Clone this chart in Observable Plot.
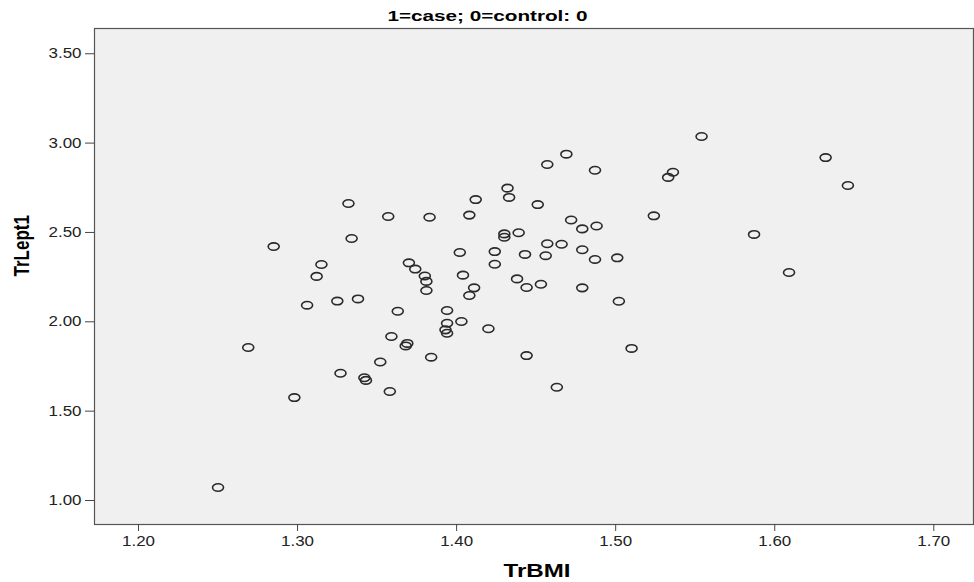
<!DOCTYPE html>
<html><head><meta charset="utf-8">
<script src="https://cdn.jsdelivr.net/npm/d3@7"></script>
<script src="https://cdn.jsdelivr.net/npm/@observablehq/plot@0.6"></script>
<style>body{margin:0;background:#fff}</style>
</head><body><div id="chart"></div>
<script>
const trBMI = [1.332,1.357,1.383,1.408,1.412,1.432,1.433,1.457,1.469,1.487,
  1.451,1.334,1.315,1.312,1.370,1.374,1.380,1.381,1.381,1.402,
  1.404,1.411,1.408,1.424,1.424,1.430,1.430,1.439,1.457,1.466,
  1.443,1.456,1.472,1.479,1.488,1.479,1.487,1.501,1.438,1.444,
  1.453,1.479,1.502,1.536,1.533,1.524,1.554,1.632,1.646,1.587,
  1.609,1.510,1.285,1.250,1.269,1.298,1.306,1.325,1.338,1.363,
  1.394,1.394,1.403,1.393,1.394,1.420,1.359,1.369,1.368,1.384,
  1.352,1.327,1.342,1.343,1.358,1.444,1.463];
const trLept1 = [2.662,2.589,2.585,2.597,2.684,2.748,2.696,2.880,2.938,2.848,
  2.656,2.466,2.321,2.254,2.330,2.295,2.256,2.226,2.175,2.388,
  2.261,2.190,2.147,2.393,2.322,2.492,2.473,2.498,2.437,2.434,
  2.377,2.370,2.570,2.520,2.536,2.403,2.349,2.358,2.240,2.192,
  2.210,2.190,2.115,2.837,2.808,2.593,3.037,2.919,2.763,2.489,
  2.276,1.851,2.421,1.073,1.856,1.576,2.093,2.116,2.128,2.059,
  2.063,1.992,2.002,1.955,1.936,1.961,1.918,1.879,1.865,1.802,
  1.775,1.712,1.687,1.672,1.610,1.811,1.634];
const xTicks = [1.2, 1.3, 1.4, 1.5, 1.6, 1.7];
const yTicks = [1.0, 1.5, 2.0, 2.5, 3.0, 3.5];
const titleText = "1=case; 0=control: 0";
const xLabel = "TrBMI";
const yLabel = "TrLept1";

const data = trBMI.map((x, i) => ({x, y: trLept1[i]}));

// horizontally stretched circle (ellipse) symbol
const ellipse = {
  draw(context, size) {
    const r = Math.sqrt(size / Math.PI);
    const rx = r, ry = r * 0.68, k = 0.5523;
    context.moveTo(rx, 0);
    context.bezierCurveTo(rx, k * ry, k * rx, ry, 0, ry);
    context.bezierCurveTo(-k * rx, ry, -rx, k * ry, -rx, 0);
    context.bezierCurveTo(-rx, -k * ry, -k * rx, -ry, 0, -ry);
    context.bezierCurveTo(k * rx, -ry, rx, -k * ry, rx, 0);
    context.closePath();
  }
};

const fmt = d3.format(".2f");

const plot = Plot.plot({
  width: 974,
  height: 582,
  marginLeft: 94,
  marginRight: 1,
  marginTop: 28,
  marginBottom: 58,
  style: {fontFamily: "'Liberation Sans', Arial, sans-serif", background: "#fff", color: "#222", overflow: "visible"},
  x: {domain: [1.17234, 1.72496]},
  y: {domain: [0.8657, 3.6413]},
  marks: [
    Plot.frame({fill: "#f0f0f0", stroke: null}),
    Plot.dot(data, {x: "x", y: "y", symbol: ellipse, r: 5.5, fill: "none", stroke: "#2a2a2a", strokeWidth: 1.6}),
    Plot.frame({stroke: "#555", strokeWidth: 1.2}),
    Plot.axisX(xTicks, {tickSize: 7, tickPadding: 5, tickFormat: fmt, fontSize: 14, label: null, stroke: "#444"}),
    Plot.axisY(yTicks, {tickSize: 9, tickPadding: 4, tickFormat: fmt, fontSize: 14, label: null, stroke: "#444"}),
    Plot.text([titleText], {text: d => d, frameAnchor: "top", dx: -46.5, dy: -12.5, lineAnchor: "middle", fontSize: 15, fontWeight: "bold", fill: "#000", className: "ttl"}),
    Plot.text([xLabel], {text: d => d, frameAnchor: "bottom", dx: 3, dy: 46, lineAnchor: "middle", fontSize: 19, fontWeight: "bold", fill: "#000", className: "xlab"}),
    Plot.text([yLabel], {text: d => d, frameAnchor: "left", dx: -73, rotate: -90, lineAnchor: "middle", fontSize: 17, fontWeight: "bold", fill: "#000", className: "ylab"})
  ]
});

document.getElementById("chart").append(plot);

const svg = d3.select(plot);
svg.selectAll("g[aria-label='x-axis tick label'] text, g[aria-label='y-axis tick label'] text").each(function() {
  const L = this.getComputedTextLength();
  this.setAttribute("textLength", L * 1.21);
  this.setAttribute("lengthAdjust", "spacingAndGlyphs");
});
svg.selectAll(".ttl text").attr("textLength", 200).attr("lengthAdjust", "spacingAndGlyphs");
svg.selectAll(".xlab text").attr("textLength", 67).attr("lengthAdjust", "spacingAndGlyphs");
svg.selectAll(".ylab text").each(function() {
  const t = this.getAttribute("transform");
  if (t && t.includes("rotate")) this.setAttribute("transform", t.replace("rotate", "scale(1.35,1) rotate"));
});
</script>
</body></html>
